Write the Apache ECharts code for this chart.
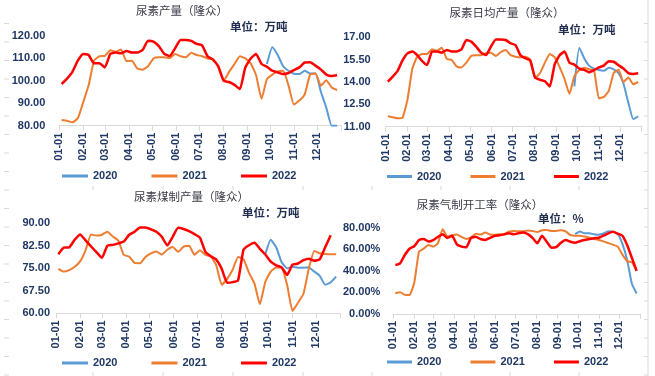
<!DOCTYPE html>
<html lang="zh">
<head>
    <meta charset="UTF-8">
    <title>尿素产量（隆众）</title>
    <style>
        html, body { margin: 0; padding: 0; background: #fff; }
        #chart { width: 655px; height: 376px; }
    </style>
</head>
<body>
<div id="chart"></div>

<script src="https://cdn.jsdelivr.net/npm/echarts@6/dist/echarts.min.js"></script>
<script>
    // x轴：月初（一年中的第几天）
    var monthDays = [0, 31, 59, 90, 120, 151, 181, 212, 243, 273, 304, 334];
    var monthLabels = ['01-01', '02-01', '03-01', '04-01', '05-01', '06-01',
        '07-01', '08-01', '09-01', '10-01', '11-01', '12-01'];
    var years = ['2020', '2021', '2022'];
    var colors = ['#5B9BD5', '#ED7D31', '#FF0000'];
    var start2020 = 38; // 2020年数据从第38周开始

    // 尿素产量（万吨，周度）
    var prod2020 = [107.5, 115, 111.5, 106.5, 104.5, 103.2, 103, 104.5, 103.3, 103.3, 95, 88, 80, 80];
    var prod2021 = [82.5, 82.2, 81.5, 83.3, 90.5, 98, 109, 111, 111.1, 113.7, 113, 114, 108.8, 109, 105.5, 105,
        106.5, 110, 110.5, 110.5, 110.2, 112, 111, 110.5, 112.5, 111.5, 111, 110, 109.6, 106, 100, 104, 107.5,
        111, 110, 107.8, 102.5, 92, 100.8, 102.8, 104.2, 104.5, 98, 89.5, 91.2, 94, 102.8, 103.3, 97.8, 100.3, 97, 95.9];
    var prod2022 = [98.6, 101, 104, 109, 112, 111.5, 107.8, 107.8, 106, 112, 112.6, 112.3, 113.3, 112.6, 112.6,
        113.8, 117.9, 117.5, 115.5, 112, 111.1, 114.5, 118.2, 118.2, 117.8, 116.5, 115.8, 111, 109.5, 106.5, 100,
        99.5, 98.2, 96.3, 106, 110, 112, 107.5, 106.3, 104.5, 103.8, 103, 103.5, 104.8, 106, 108.2, 108.3, 106.8,
        105, 102.8, 102.2, 102.5];

    // 尿素日均产量（万吨）
    var daily2020 = [13.7, 16.3, 15.6, 15.1, 14.9, 14.8, 14.75, 14.95, 14.85, 14.6, 13.9, 12.6, 11.5, 11.7];
    var daily2021 = [11.7, 11.63, 11.56, 11.6, 12.8, 14.9, 15.7, 15.88, 15.88, 16.2, 16.1, 16.3, 15.55, 15.48,
        15.05, 14.98, 15.3, 15.75, 15.79, 15.8, 15.93, 15.97, 15.75, 16.0, 16.15, 15.8, 15.7, 15.66, 15.7, 15.5,
        14.25, 14.6, 15.3, 15.88, 15.65, 15.0, 14.2, 13.2, 14.4, 14.8, 14.95, 14.85, 14.8, 12.9, 13.0, 13.4, 14.6,
        14.82, 14.0, 14.3, 13.85, 14.0];
    var daily2022 = [14.02, 14.36, 14.75, 15.45, 15.92, 16.05, 15.8, 15.4, 15.14, 16.04, 16.05, 15.97, 16.15,
        16.05, 16.05, 16.19, 16.82, 16.71, 16.37, 15.97, 15.81, 16.37, 16.86, 16.86, 16.82, 16.6, 16.48, 15.8, 15.6,
        15.45, 14.3, 14.15, 14.05, 13.7, 15.2, 15.8, 16.04, 15.3, 15.17, 14.9, 14.81, 14.65, 14.8, 14.98, 15.1,
        15.4, 15.36, 15.13, 14.9, 14.6, 14.54, 14.58];

    // 尿素煤制产量（万吨）
    var coal2020 = [79.7, 84.5, 82, 77, 75, 75.5, 75.2, 75.2, 75.3, 73.9, 72.5, 69.5, 70.3, 72.2];
    var coal2021 = [74.8, 73.9, 74.4, 75.5, 77.3, 81, 86.3, 85.9, 86.2, 87.2, 85.6, 84.3, 79.5, 78.9, 76.8, 76.7,
        78.8, 80, 80.6, 79.6, 81.2, 82.1, 80.5, 82.2, 82.5, 79.5, 81, 79.5, 78.9, 76, 69.5, 71.5, 74.5, 78.8, 78,
        73.5, 70, 63, 70.5, 73.9, 75.3, 75.2, 69.5, 60.8, 63.5, 66.5, 75, 80.8, 80, 79.8, 79.7, 79.7];
    var coal2022 = [79.7, 81.9, 82, 84.5, 86.3, 84.3, 82.3, 80.4, 78.5, 82.5, 82.8, 83.3, 83.9, 86.2, 87.2, 88.6,
        88.6, 88, 87.2, 85.5, 82.6, 85.5, 88.5, 88.1, 87.4, 86.4, 85.2, 80.5, 79, 77.9, 74.8, 70.2, 70.4, 71, 81.2,
        82.7, 83.5, 81.5, 79.6, 77.2, 76, 75.3, 72.8, 76.2, 76.6, 77.7, 78.2, 77.5, 78, 82, 86];

    // 尿素气制开工率（%）
    var gas2020 = [74, 76.5, 74.8, 74.8, 74, 73.5, 74.6, 76.8, 76.2, 74, 65, 50, 28, 19];
    var gas2021 = [19.2, 20.1, 17.8, 17.6, 29, 57.8, 60.6, 64, 62.5, 65.5, 78.5, 72, 73.1, 73.6, 71.5, 69.6, 71,
        74.5, 73.6, 75.6, 73.7, 73.5, 73.85, 73.85, 76.5, 76.9, 76.7, 76.6, 77.5, 76.9, 76, 77.6, 77.9, 77, 77,
        77.7, 76.5, 73.2, 72.6, 72.6, 71.8, 70.8, 69.6, 68.6, 67.3, 65.8, 64.3, 62.4, 55, 49, 48, 40];
    var gas2022 = [45.4, 47, 54.7, 60.5, 62.8, 68.5, 69.5, 67.2, 68.5, 71.5, 74, 70.5, 72.5, 64.5, 62.5, 61.8,
        70.5, 71.5, 69.5, 68.5, 70.5, 72.4, 73, 73.8, 74.8, 73.85, 74.8, 75.5, 74, 70.5, 65.5, 72.6, 67, 61.5, 62,
        66, 68.5, 67, 66, 67.5, 68.6, 69.4, 70.2, 70.7, 72.6, 74.8, 76.2, 74.5, 72.6, 64, 52, 40];

    var labelColor = '#1F3864';
    var numFont = '"Liberation Sans", Arial, sans-serif';
    var cjkFont = '"Noto Sans CJK SC", sans-serif';

    // 周序号 -> 一年中的第几天
    function toPoints(values, startWeek) {
        return values.map(function (v, i) {
            return [3 + 7 * (i + startWeek), v];
        });
    }

    function makeSeries(idx, values, startWeek, yearIdx) {
        return {
            name: years[yearIdx],
            type: 'line',
            xAxisIndex: idx,
            yAxisIndex: idx,
            data: toPoints(values, startWeek),
            symbol: 'none',
            smooth: 0.15,
            z: 2 + yearIdx,
            lineStyle: {color: colors[yearIdx], width: yearIdx === 2 ? 2.5 : 2},
            itemStyle: {color: colors[yearIdx]}
        };
    }

    function makeXAxis(idx) {
        return {
            type: 'value', gridIndex: idx, min: 0, max: 365,
            axisLine: {onZero: false, lineStyle: {color: '#D9D9D9', width: 1}},
            axisTick: {show: true, customValues: monthDays.concat([365]), length: 5,
                lineStyle: {color: '#D9D9D9'}},
            axisLabel: {
                customValues: monthDays, rotate: 90, margin: 7,
                color: labelColor, fontWeight: 'bold', fontSize: 11, fontFamily: numFont,
                formatter: function (v) {
                    return monthLabels[monthDays.indexOf(v)];
                }
            },
            splitLine: {show: false}
        };
    }

    function makeYAxis(idx, min, max, interval, margin, suffix) {
        return {
            type: 'value', gridIndex: idx, min: min, max: max, interval: interval,
            axisLine: {show: false}, axisTick: {show: false}, splitLine: {show: false},
            axisLabel: {
                margin: margin, color: labelColor, fontWeight: 'bold', fontSize: 11, fontFamily: numFont,
                formatter: function (v) {
                    return v.toFixed(2) + (suffix || '');
                }
            }
        };
    }

    function makeLegend(left, top, itemWidth, gap) {
        return {
            left: left, top: top, padding: 0, itemWidth: itemWidth, itemHeight: 3, itemGap: gap, icon: 'rect',
            data: years,
            textStyle: {color: labelColor, fontWeight: 'bold', fontSize: 11, fontFamily: numFont}
        };
    }

    function titleText(x, y, text) {
        return {type: 'text', x: x, y: y, style: {text: text, fill: '#3A3A48', textAlign: 'center',
                textVerticalAlign: 'middle', font: 'normal 11.5px ' + cjkFont}};
    }

    function unitText(x, y, text) {
        return {type: 'text', x: x, y: y, style: {text: text, fill: '#1F2D4F', textAlign: 'left',
                textVerticalAlign: 'middle', font: 'bold 11.5px ' + cjkFont}};
    }

    // 背景上的浅灰刻度线
    var deco = [];
    deco.push({type: 'line', shape: {x1: 648, y1: 0, x2: 648, y2: 376}, style: {stroke: '#D9D9D9', lineWidth: 1}});
    for (var k = 0; k < 20; k++) {
        var ty = 23.5 + k * 18.5;
        deco.push({type: 'line', shape: {x1: 644, y1: ty, x2: 648, y2: ty}, style: {stroke: '#D9D9D9', lineWidth: 1}});
        deco.push({type: 'line', shape: {x1: 4, y1: ty, x2: 9, y2: ty}, style: {stroke: '#D9D9D9', lineWidth: 1}});
    }
    [93, 163, 233, 303, 372, 441, 510, 579].forEach(function (tx) {
        deco.push({type: 'line', shape: {x1: tx, y1: 186, x2: tx, y2: 190}, style: {stroke: '#D9D9D9', lineWidth: 1}});
        deco.push({type: 'line', shape: {x1: tx, y1: 372, x2: tx, y2: 376}, style: {stroke: '#D9D9D9', lineWidth: 1}});
    });

    var myChart = echarts.init(document.getElementById('chart'), null, {renderer: 'canvas'});
    var option = {
        backgroundColor: '#fff',
        animation: false,
        grid: [
            {left: 59.3, right: 314, top: 36, bottom: 250.3, outerBoundsMode: 'none'},
            {left: 385.7, right: 13.3, top: 37.3, bottom: 249.3, outerBoundsMode: 'none'},
            {left: 56, right: 315, top: 223.3, bottom: 62.7, outerBoundsMode: 'none'},
            {left: 393.3, right: 15, top: 227.7, bottom: 62, outerBoundsMode: 'none'}
        ],
        xAxis: [makeXAxis(0), makeXAxis(1), makeXAxis(2), makeXAxis(3)],
        yAxis: [
            makeYAxis(0, 80, 120, 10, 14),
            makeYAxis(1, 11, 17, 1.5, 15),
            makeYAxis(2, 60, 90, 7.5, 6),
            makeYAxis(3, 0, 80, 20, 13, '%')
        ],
        legend: [
            makeLegend(62, 170.5, 26, 34),
            makeLegend(387, 171, 25, 29),
            makeLegend(62, 357.5, 26, 34),
            makeLegend(387, 356.5, 25, 29)
        ],
        graphic: deco.concat([
            titleText(182, 11, '尿素产量（隆众）'),
            unitText(230, 27, '单位：万吨'),
            titleText(507, 13, '尿素日均产量（隆众）'),
            unitText(558, 30, '单位：万吨'),
            titleText(191.5, 197, '尿素煤制产量（隆众）'),
            unitText(242, 213, '单位：万吨'),
            titleText(480, 205, '尿素气制开工率（隆众）'),
            unitText(538, 219, '单位：%')
        ]),
        series: [
            makeSeries(0, prod2020, start2020, 0),
            makeSeries(0, prod2021, 0, 1),
            makeSeries(0, prod2022, 0, 2),
            makeSeries(1, daily2020, start2020, 0),
            makeSeries(1, daily2021, 0, 1),
            makeSeries(1, daily2022, 0, 2),
            makeSeries(2, coal2020, start2020, 0),
            makeSeries(2, coal2021, 0, 1),
            makeSeries(2, coal2022, 0, 2),
            makeSeries(3, gas2020, start2020, 0),
            makeSeries(3, gas2021, 0, 1),
            makeSeries(3, gas2022, 0, 2)
        ]
    };
    myChart.setOption(option);
</script>
</body>
</html>
